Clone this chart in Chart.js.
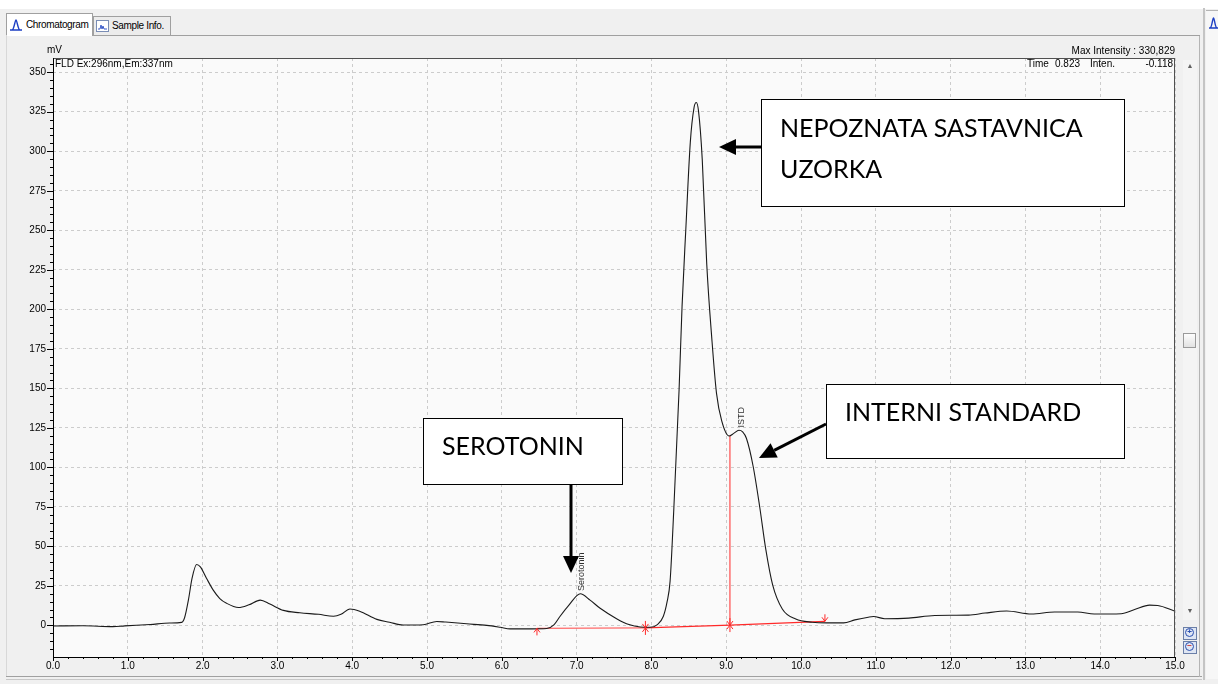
<!DOCTYPE html>
<html>
<head>
<meta charset="utf-8">
<title>Chromatogram</title>
<script src="https://cdn.jsdelivr.net/npm/chart.js@4.4.1/dist/chart.umd.min.js"></script>
<style>
    body {
        margin: 0;
        width: 1218px;
        height: 684px;
        overflow: hidden;
        position: relative;
        background: #f0f0f0;
        font-family: 'Liberation Sans', Arial, sans-serif;
    }
    #topStrip { position: absolute; left: 0; top: 0; width: 1218px; height: 9px; background: #ffffff; }
    #chart { position: absolute; left: 0; top: 0; z-index: 1; }
    .tab {
        position: absolute;
        box-sizing: border-box;
        border: 1px solid #a0a0a0;
        border-bottom: none;
        font-size: 10px;
        letter-spacing: -0.35px;
        color: #000;
        line-height: 18px;
        white-space: nowrap;
        overflow: hidden;
        z-index: 2;
    }
    .tab svg { vertical-align: -3px; margin: 0 3px 0 2px; }
    #tab1 { left: 6px; top: 13px; width: 87px; height: 23px; background: #ffffff; line-height: 22px; }
    #tab2 { left: 93px; top: 16px; width: 78px; height: 19px; background: #ececec; }
    #panelLine { position: absolute; left: 93px; top: 35px; width: 1107px; height: 1px; background: #a0a0a0; z-index: 2; }
    #panelLeft { position: absolute; left: 6px; top: 35px; width: 1px; height: 642px; background: #d8d8d8; z-index: 2; }
    #bottomLine1 { position: absolute; left: 6px; top: 676px; width: 1196px; height: 1px; background: #a0a0a0; z-index: 2; }
    #bottomLine2 { position: absolute; left: 6px; top: 679px; width: 1196px; height: 1px; background: #c8c8c8; z-index: 2; }
    #scrollTrack { position: absolute; left: 1183px; top: 60px; width: 14px; height: 560px; background: #f4f4f4; z-index: 2; }
    #scrollThumb { position: absolute; left: 1183px; top: 333px; width: 13px; height: 15px; box-sizing: border-box; border: 1px solid #9a9a9a; background: linear-gradient(#fdfdfd, #e2e2e2); z-index: 3; }
    .scrollArrow { position: absolute; left: 1186px; width: 8px; font-size: 7px; color: #606060; z-index: 3; text-align: center; }
    .zoomBtn { position: absolute; left: 1183px; width: 14px; height: 13px; box-sizing: border-box; border: 1px solid #6b7fa8; background: #dfe6f3; z-index: 3; }
    .zoomBtn span { position: absolute; left: 1px; top: 0px; width: 9px; height: 9px; box-sizing: border-box; border: 1.5px solid #2a4fb0; border-radius: 50%; font-size: 8px; line-height: 6px; text-align: center; font-weight: bold; }
    #sepA { position: absolute; left: 1199px; top: 36px; width: 1px; height: 641px; background: #b4b4b4; z-index: 2; }
    #sepB { position: absolute; left: 1203px; top: 8px; width: 2px; height: 672px; background: #c4c4c4; z-index: 2; }
    #rightPanel { position: absolute; left: 1206px; top: 10px; width: 12px; height: 668px; background: #f7f7f7; border-top: 1px solid #b4b4b4; z-index: 2; }
    #rightIcon { position: absolute; left: 1209px; top: 17px; z-index: 3; }
</style>
</head>
<body>
<div id="topStrip"></div>
<canvas id="chart" width="1218" height="684"></canvas>

<div class="tab" id="tab1"><svg width="14" height="12" viewBox="0 0 14 12"><path d="M1 11 H13 M3 11 C5 11 6 1 7 1 C8 1 9 11 11 11" stroke="#1d3fc4" stroke-width="1.4" fill="none"/></svg>Chromatogram</div>
<div class="tab" id="tab2"><svg width="13" height="12" viewBox="0 0 13 12"><rect x="0.5" y="0.5" width="12" height="11" fill="#fff" stroke="#7a8db5"/><path d="M2 9 L4 9 L5 5 L6 9 L7 6 L8 9 L11 9" stroke="#3b5bc9" stroke-width="1" fill="none"/></svg>Sample Info.</div>
<div id="panelLine"></div>
<div id="panelLeft"></div>
<div id="bottomLine1"></div>
<div id="bottomLine2"></div>

<div id="scrollTrack"></div>
<div class="scrollArrow" style="top:62px">&#9650;</div>
<div id="scrollThumb"></div>
<div class="scrollArrow" style="top:607px">&#9660;</div>
<div class="zoomBtn" style="top:627px"><span style="color:#2a4fb0">+</span></div>
<div class="zoomBtn" style="top:641px"><span style="color:#d03030">&minus;</span></div>

<div id="sepA"></div>
<div id="sepB"></div>
<div id="rightPanel"></div>
<svg id="rightIcon" width="9" height="12" viewBox="0 0 9 12"><path d="M0 11 H9 M1 11 C3 11 3.5 1 4.5 1 C5.5 1 6 11 8 11" stroke="#1d3fc4" stroke-width="1.4" fill="none"/></svg>

<script>
    // chromatogram trace (time in min, signal in mV)
    const retentionTime = [
        0.00, 0.40, 0.80, 0.96, 1.30, 1.56, 1.72, 1.76, 1.81, 1.86, 1.92, 1.97, 2.05, 2.14, 2.23, 2.32,
        2.48, 2.62, 2.77, 2.90, 3.08, 3.30, 3.55, 3.75, 3.85, 3.97, 4.10, 4.33, 4.50, 4.68, 4.95, 5.13,
        5.25, 5.53, 5.80, 5.98, 6.11, 6.40, 6.60, 6.70, 6.78, 6.90, 7.05, 7.18, 7.31, 7.54, 7.70, 7.85,
        7.98, 8.08, 8.16, 8.21, 8.25, 8.30, 8.37, 8.41, 8.46, 8.52, 8.57, 8.60, 8.63, 8.68, 8.74, 8.81,
        8.87, 8.94, 9.04, 9.10, 9.17, 9.22, 9.27, 9.36, 9.45, 9.53, 9.62, 9.75, 9.93, 10.15, 10.35, 10.57,
        10.72, 10.90, 10.97, 11.12, 11.44, 11.79, 12.24, 12.46, 12.75, 13.08, 13.39, 13.70, 13.92, 14.28, 14.46, 14.66,
        14.77, 15.00
    ];
    const intensity = [
        -0.4, -0.2, -0.8, -0.3, 0.6, 1.5, 1.9, 5, 16, 30, 38.5, 37, 30, 22.5, 17, 14,
        11.3, 13, 16, 13.5, 9.5, 8, 7, 5.8, 7, 10.4, 9, 3.8, 2, 0.2, 0.4, 2.5,
        2.1, 1, 0, -1.2, -2.2, -2.2, -2.0, 0.5, 5.8, 13, 20, 16, 11, 4.1, 0.5, -1.0,
        -1.2, 0.5, 5.8, 15, 28, 74, 149, 202, 250.5, 305.6, 327.6, 330.8, 325.4, 294.6, 228.5, 180,
        147, 129.4, 119.8, 121.5, 123.5, 122.5, 118.4, 100.7, 74.3, 47.9, 25.8, 10.4, 4, 2, 1.6, 1.6,
        3.5, 5.2, 5.6, 4.2, 4.6, 6.3, 6.5, 7.8, 9.1, 7.2, 8.5, 8.5, 7.2, 7.4, 10, 12.8,
        12.6, 8.9
    ];

    // integration baseline (start, split, split, end)
    const baselineTime = [6.47, 7.92, 9.05, 10.32];
    const baselineLevel = [-1.9, -1.6, 0.2, 2.6];

    // ISTD drop line
    const dropTime = 9.05;
    const dropTop = 120;

    // peak names written vertically over the peaks
    const peakNames = ['Serotonin', 'ISTD'];
    const peakTimes = [7.06, 9.20];
    const peakTops = [20.5, 124];

    const xTickValues = [0, 1, 2, 3, 4, 5, 6, 7, 8, 9, 10, 11, 12, 13, 14, 15];
    const yTickValues = [0, 25, 50, 75, 100, 125, 150, 175, 200, 225, 250, 275, 300, 325, 350];

    const traceData = retentionTime.map((t, i) => ({ x: t, y: intensity[i] }));
    const serotoninBase = [0, 1].map((i) => ({ x: baselineTime[i], y: baselineLevel[i] }));
    const istdBase = [1, 2, 3].map((i) => ({ x: baselineTime[i], y: baselineLevel[i] }));

    // annotation boxes pasted over the screenshot (pixels)
    const notes = [
        { box: [761, 99, 363, 107], lines: ['NEPOZNATA SASTAVNICA', 'UZORKA'], tx: 780, ty: [129, 170], arrow: [761, 147, 719, 147] },
        { box: [826, 384, 298, 74], lines: ['INTERNI STANDARD'], tx: 845, ty: [413], arrow: [826, 424, 759, 458] },
        { box: [423, 418, 199, 66], lines: ['SEROTONIN'], tx: 442, ty: [447], arrow: [571, 484, 571, 573] },
    ];

    function drawArrow(ctx, x1, y1, x2, y2) {
        const ang = Math.atan2(y2 - y1, x2 - x1);
        const len = 17;
        const half = 8;
        const bx = x2 - Math.cos(ang) * len;
        const by = y2 - Math.sin(ang) * len;
        ctx.strokeStyle = '#000';
        ctx.lineWidth = 3;
        ctx.beginPath();
        ctx.moveTo(x1, y1);
        ctx.lineTo(bx, by);
        ctx.stroke();
        ctx.fillStyle = '#000';
        ctx.beginPath();
        ctx.moveTo(x2, y2);
        ctx.lineTo(bx - Math.sin(ang) * half, by + Math.cos(ang) * half);
        ctx.lineTo(bx + Math.sin(ang) * half, by - Math.cos(ang) * half);
        ctx.closePath();
        ctx.fill();
    }

    // small red marker used by the integration baseline
    function drawMark(ctx, x, y, up, down) {
        ctx.strokeStyle = '#ff2a2a';
        ctx.lineWidth = 1;
        ctx.beginPath();
        if (up) {
            ctx.moveTo(x, y + 7); ctx.lineTo(x, y);
            ctx.moveTo(x - 3, y + 4); ctx.lineTo(x, y); ctx.lineTo(x + 3, y + 4);
        }
        if (down) {
            ctx.moveTo(x, y - 7); ctx.lineTo(x, y);
            ctx.moveTo(x - 3, y - 4); ctx.lineTo(x, y); ctx.lineTo(x + 3, y - 4);
        }
        ctx.stroke();
    }

    const chromPlugin = {
        id: 'chromPlugin',
        beforeDraw(chart) {
            const { ctx, chartArea } = chart;
            ctx.save();
            ctx.fillStyle = '#fafafa';
            ctx.fillRect(chartArea.left, chartArea.top, chartArea.right - chartArea.left, chartArea.bottom - chartArea.top);
            ctx.restore();
        },
        afterDraw(chart) {
            const { ctx, chartArea, scales } = chart;
            const xs = scales.x;
            const ys = scales.y;
            ctx.save();

            // frame
            ctx.strokeStyle = '#505050';
            ctx.lineWidth = 1;
            ctx.strokeRect(chartArea.left + 0.5, chartArea.top + 0.5, chartArea.right - chartArea.left - 1, chartArea.bottom - chartArea.top);
            ctx.strokeStyle = '#000';
            ctx.beginPath();
            ctx.moveTo(chartArea.left + 0.5, chartArea.top);
            ctx.lineTo(chartArea.left + 0.5, chartArea.bottom + 0.5);
            ctx.lineTo(chartArea.right, chartArea.bottom + 0.5);
            ctx.stroke();

            // major and minor ticks
            ctx.beginPath();
            for (let v = -20; v <= 355; v += 5) {
                const py = Math.round(ys.getPixelForValue(v)) + 0.5;
                if (py < chartArea.top || py > chartArea.bottom) continue;
                const major = v % 25 === 0;
                ctx.moveTo(chartArea.left - (major ? 6 : 3), py);
                ctx.lineTo(chartArea.left, py);
            }
            for (let k = 0; k <= 75; k++) {
                const px = Math.round(xs.getPixelForValue(k * 0.2)) + 0.5;
                const major = k % 5 === 0;
                ctx.moveTo(px, chartArea.bottom);
                ctx.lineTo(px, chartArea.bottom + (major ? 4 : 2));
            }
            ctx.stroke();

            // integration markers
            baselineTime.forEach((t, i) => {
                const px = xs.getPixelForValue(t);
                const py = ys.getPixelForValue(baselineLevel[i]);
                const last = i === baselineTime.length - 1;
                drawMark(ctx, px, py, !last, i > 0);
            });

            // vertical peak names
            ctx.fillStyle = '#303030';
            ctx.font = '9px "Liberation Sans", Arial, sans-serif';
            ctx.textBaseline = 'middle';
            ctx.textAlign = 'left';
            peakNames.forEach((name, i) => {
                ctx.save();
                ctx.translate(xs.getPixelForValue(peakTimes[i]), ys.getPixelForValue(peakTops[i]) - 2);
                ctx.rotate(-Math.PI / 2);
                ctx.fillText(name, 0, 0);
                ctx.restore();
            });

            // header texts
            ctx.fillStyle = '#000';
            ctx.font = '10px "Liberation Sans", Arial, sans-serif';
            ctx.textBaseline = 'middle';
            ctx.textAlign = 'left';
            ctx.fillText('mV', chartArea.left - 6, chartArea.top - 8);
            ctx.fillText('FLD Ex:296nm,Em:337nm', chartArea.left + 2, chartArea.top + 6);
            ctx.fillText('Time', 1027, chartArea.top + 6);
            ctx.fillText('Inten.', 1090, chartArea.top + 6);
            ctx.textAlign = 'right';
            ctx.fillText('0.823', 1080, chartArea.top + 6);
            ctx.fillText('-0.118', chartArea.right - 2, chartArea.top + 6);
            ctx.fillText('Max Intensity : 330,829', chartArea.right, chartArea.top - 7);

            // annotation boxes
            notes.forEach((n) => {
                const [bx, by, bw, bh] = n.box;
                ctx.fillStyle = '#ffffff';
                ctx.fillRect(bx, by, bw, bh);
                ctx.strokeStyle = '#000';
                ctx.lineWidth = 1;
                ctx.strokeRect(bx + 0.5, by + 0.5, bw, bh);
                ctx.fillStyle = '#000';
                ctx.font = '25px Lato, "Open Sans", sans-serif';
                ctx.textAlign = 'left';
                ctx.textBaseline = 'middle';
                n.lines.forEach((line, i) => {
                    ctx.fillText(line, n.tx, n.ty[i]);
                });
                drawArrow(ctx, n.arrow[0], n.arrow[1], n.arrow[2], n.arrow[3]);
            });

            ctx.restore();
        },
    };

    new Chart(document.getElementById('chart'), {
        type: 'line',
        data: {
            datasets: [
                {
                    label: 'FLD',
                    data: traceData,
                    borderColor: '#1a1a1a',
                    borderWidth: 1.1,
                    pointRadius: 0,
                    cubicInterpolationMode: 'monotone',
                },
                {
                    label: 'Serotonin baseline',
                    data: serotoninBase,
                    borderColor: '#ff6a6a',
                    borderWidth: 1.4,
                    pointRadius: 0,
                },
                {
                    label: 'ISTD baseline',
                    data: istdBase,
                    borderColor: '#ff2a2a',
                    borderWidth: 1.2,
                    pointRadius: 0,
                },
                {
                    label: 'ISTD drop',
                    data: [{ x: dropTime, y: baselineLevel[2] }, { x: dropTime, y: dropTop }],
                    borderColor: '#ff2a2a',
                    borderWidth: 1,
                    pointRadius: 0,
                },
            ],
        },
        options: {
            responsive: false,
            animation: false,
            devicePixelRatio: 1,
            layout: { padding: { left: 0, top: 58, right: 43, bottom: 0 } },
            plugins: {
                legend: { display: false },
                tooltip: { enabled: false },
            },
            scales: {
                x: {
                    type: 'linear',
                    min: 0,
                    max: 15,
                    afterBuildTicks: (scale) => {
                        scale.ticks = xTickValues.map((v) => ({ value: v }));
                    },
                    afterFit: (scale) => {
                        scale.height = 27;
                    },
                    ticks: {
                        autoSkip: false,
                        maxRotation: 0,
                        padding: 3,
                        color: '#000',
                        font: { family: '"Liberation Sans", Arial, sans-serif', size: 10 },
                        callback: (v) => Number(v).toFixed(1),
                    },
                    grid: { color: '#cccccc', lineWidth: 1, drawTicks: false },
                    border: { display: false, dash: [3, 3] },
                },
                y: {
                    type: 'linear',
                    min: -20,
                    max: 359,
                    afterBuildTicks: (scale) => {
                        scale.ticks = yTickValues.map((v) => ({ value: v }));
                    },
                    afterFit: (scale) => {
                        scale.width = 53;
                    },
                    ticks: {
                        autoSkip: false,
                        padding: 7,
                        color: '#000',
                        font: { family: '"Liberation Sans", Arial, sans-serif', size: 10 },
                    },
                    grid: { color: '#cccccc', lineWidth: 1, drawTicks: false },
                    border: { display: false, dash: [3, 3] },
                },
            },
        },
        plugins: [chromPlugin],
    });
</script>
</body>
</html>
